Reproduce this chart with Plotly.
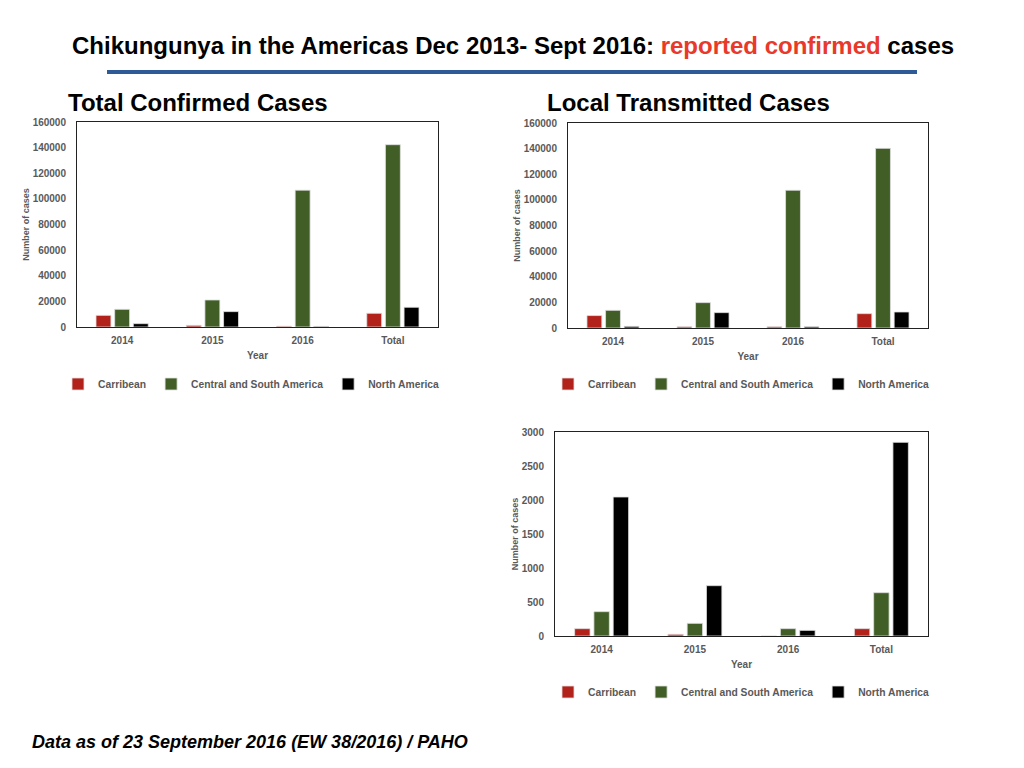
import plotly.graph_objects as go

# categories and series
years = ["2014", "2015", "2016", "Total"]
series_names = ["Carribean", "Central and South America", "North America"]
series_colors = ["#B2221B", "#415E27", "#000000"]

# Total Confirmed Cases
total_carib = [9100, 1300, 600, 10700]
total_csa = [13800, 21100, 106800, 142300]
total_na = [2600, 12000, 500, 15400]

# Local Transmitted Cases
local_carib = [9700, 1000, 1000, 11200]
local_csa = [13800, 19800, 107500, 140200]
local_na = [1300, 12000, 1000, 12500]

# Third chart (imported cases)
imp_carib = [108, 25, 0, 108]
imp_csa = [358, 186, 108, 637]
imp_na = [2044, 740, 83, 2848]

W, H = 1024, 768
OFF = 8  # page body margin
GREY = "#595959"
FONT = "Liberation Sans, Arial, sans-serif"

def px(x):
    return (x - OFF) / W

def py(y):
    return 1 - (y - OFF) / H

def xd(a, b):
    return [px(a), px(b)]

def yd(top, bottom):
    return [py(bottom), py(top)]

fig = go.Figure()

charts = [
    ([total_carib, total_csa, total_na], "x", "y", "legend"),
    ([local_carib, local_csa, local_na], "x2", "y2", "legend2"),
    ([imp_carib, imp_csa, imp_na], "x3", "y3", "legend3"),
]
for values, xa, ya, lg in charts:
    for name, col, vals in zip(series_names, series_colors, values):
        fig.add_trace(go.Bar(
            x=years, y=vals, name=name, xaxis=xa, yaxis=ya, legend=lg,
            marker=dict(color=col, line=dict(color="#e0e0e0", width=0.8)),
        ))

tickfont = dict(family=FONT, size=10, color=GREY, weight="bold")

def xaxis(domain, anchor):
    return dict(domain=domain, anchor=anchor, tickfont=tickfont, automargin=False,
                title=dict(text="Year", font=dict(family=FONT, size=10, color=GREY, weight="bold"),
                           standoff=6),
                showline=True, linecolor="#222222", mirror=True, ticks="",
                ticklabelstandoff=4, showgrid=False)

def yaxis(domain, anchor, rng, dtick):
    return dict(domain=domain, anchor=anchor, range=rng, dtick=dtick, tickfont=tickfont,
                automargin=False,
                title=dict(text="Number of cases", font=dict(family=FONT, size=9, color=GREY, weight="bold"),
                           standoff=1),
                showline=True, linecolor="#222222", mirror=True, ticks="",
                ticklabelstandoff=8, showgrid=False, zeroline=False, tickformat="d")

def legend(x, y):
    return dict(orientation="h", x=px(x), y=py(y), xanchor="left", yanchor="middle",
                font=dict(family=FONT, size=10.3, color=GREY, weight="bold"),
                itemwidth=30, bgcolor="rgba(0,0,0,0)", itemclick=False)

fig.update_layout(
    width=W, height=H,
    margin=dict(l=0, r=0, t=0, b=0),
    paper_bgcolor="white", plot_bgcolor="white",
    barmode="group", bargap=0.38, bargroupgap=0.2,
    font=dict(family=FONT),
    xaxis=xaxis(xd(77, 438), "y"),
    yaxis=yaxis(yd(122, 327), "x", [0, 160000], 20000),
    xaxis2=xaxis(xd(568, 928), "y2"),
    yaxis2=yaxis(yd(123, 328), "x2", [0, 160000], 20000),
    xaxis3=xaxis(xd(555, 928), "y3"),
    yaxis3=yaxis(yd(432, 636), "x3", [0, 3000], 500),
    legend=legend(58, 384),
    legend2=legend(548, 384),
    legend3=legend(548, 692),
    showlegend=True,
)

# title and separator
fig.add_annotation(
    text="<b>Chikungunya in the Americas Dec 2013- Sept 2016: "
         "<span style='color:#E8392A'>reported confirmed</span> cases</b>",
    x=px(513), y=py(45), xref="paper", yref="paper", showarrow=False,
    xanchor="center", yanchor="middle",
    font=dict(family=FONT, size=24, color="black"))
fig.add_shape(type="line", xref="paper", yref="paper",
              x0=px(107), x1=px(917), y0=py(72), y1=py(72),
              line=dict(color="#2F5A98", width=4))

fig.add_annotation(text="<b>Total Confirmed Cases</b>", x=px(66), y=py(103),
                   xref="paper", yref="paper", showarrow=False, xanchor="left", yanchor="middle",
                   font=dict(family=FONT, size=24, color="black"))
fig.add_annotation(text="<b>Local Transmitted Cases</b>", x=px(545), y=py(103),
                   xref="paper", yref="paper", showarrow=False, xanchor="left", yanchor="middle",
                   font=dict(family=FONT, size=24, color="black"))

fig.add_annotation(text="<b><i>Data as of 23 September 2016 (EW 38/2016) / PAHO</i></b>",
                   x=px(30), y=py(742), xref="paper", yref="paper", showarrow=False,
                   xanchor="left", yanchor="middle",
                   font=dict(family=FONT, size=18, color="black"))

fig.write_html("out.html")
